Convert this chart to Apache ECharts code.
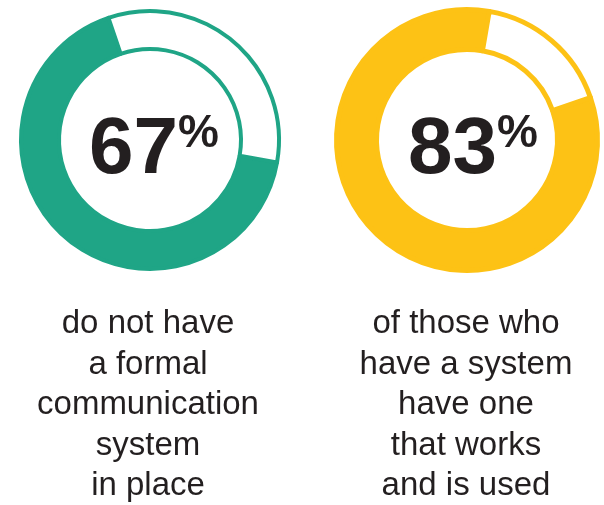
<!DOCTYPE html>
<html><head><meta charset="utf-8">
<script src="https://cdn.jsdelivr.net/npm/echarts@6/dist/echarts.min.js"></script>
<style>html,body{margin:0;padding:0;background:#fff}#c{width:604px;height:505px}</style>
</head><body><div id="c"></div>
<script>
// ---- data ----
const categories = ['do not have a formal communication system in place', 'of those who have a system have one that works and is used'];
const percentValues = [67, 83];
const remainderValues = [33, 17];
const captionLines = [
  ['do not have', 'a formal', 'communication', 'system', 'in place'],
  ['of those who', 'have a system', 'have one', 'that works', 'and is used']
];
const colors = ['#1fa586', '#fdc215'];

// ---- layout / style ----
const FONT = "'Liberation Sans', Arial, Helvetica, sans-serif";
const TEXT = '#231f20';
const layout = [
  { center: [150, 140], radius: [91, 129], border: 4, startAngle: -10, textX: 148, numDx: 4 },
  { center: [467, 140], radius: [90.5, 130.5], border: 5, startAngle: 19, textX: 466, numDx: 6 }
];

const chart = echarts.init(document.getElementById('c'), null, { renderer: 'canvas' });

const series = percentValues.map((v, i) => ({
  type: 'pie',
  name: categories[i],
  center: layout[i].center,
  radius: layout[i].radius,
  startAngle: layout[i].startAngle,
  clockwise: true,
  silent: true,
  avoidLabelOverlap: false,
  label: { show: false },
  labelLine: { show: false },
  emphasis: { disabled: true },
  data: [
    { name: 'share', value: v, itemStyle: { color: colors[i], borderColor: colors[i], borderWidth: layout[i].border } },
    { name: 'rest', value: remainderValues[i], itemStyle: { color: '#ffffff', borderColor: colors[i], borderWidth: layout[i].border } }
  ]
}));

const graphic = [];
percentValues.forEach((v, i) => {
  graphic.push({
    type: 'text',
    x: layout[i].center[0] + layout[i].numDx,
    y: layout[i].center[1] + 11,
    silent: true,
    style: {
      text: '{n|' + v + '}{p|%}',
      align: 'center',
      verticalAlign: 'middle',
      rich: {
        n: { fontSize: 80, fontWeight: 'bold', fontFamily: FONT, fill: TEXT, color: TEXT, lineHeight: 80 },
        p: { fontSize: 46, fontWeight: 'bold', fontFamily: FONT, fill: TEXT, color: TEXT, verticalAlign: 'top', lineHeight: 50 }
      }
    }
  });
  graphic.push({
    type: 'text',
    x: layout[i].textX,
    y: 304,
    silent: true,
    style: {
      text: captionLines[i].join('\n'),
      align: 'center',
      verticalAlign: 'top',
      fontSize: 33,
      lineHeight: 40.5,
      fontFamily: FONT,
      fill: TEXT
    }
  });
});

chart.setOption({
  animation: false,
  backgroundColor: '#ffffff',
  series: series,
  graphic: graphic
});
</script>
</body></html>
